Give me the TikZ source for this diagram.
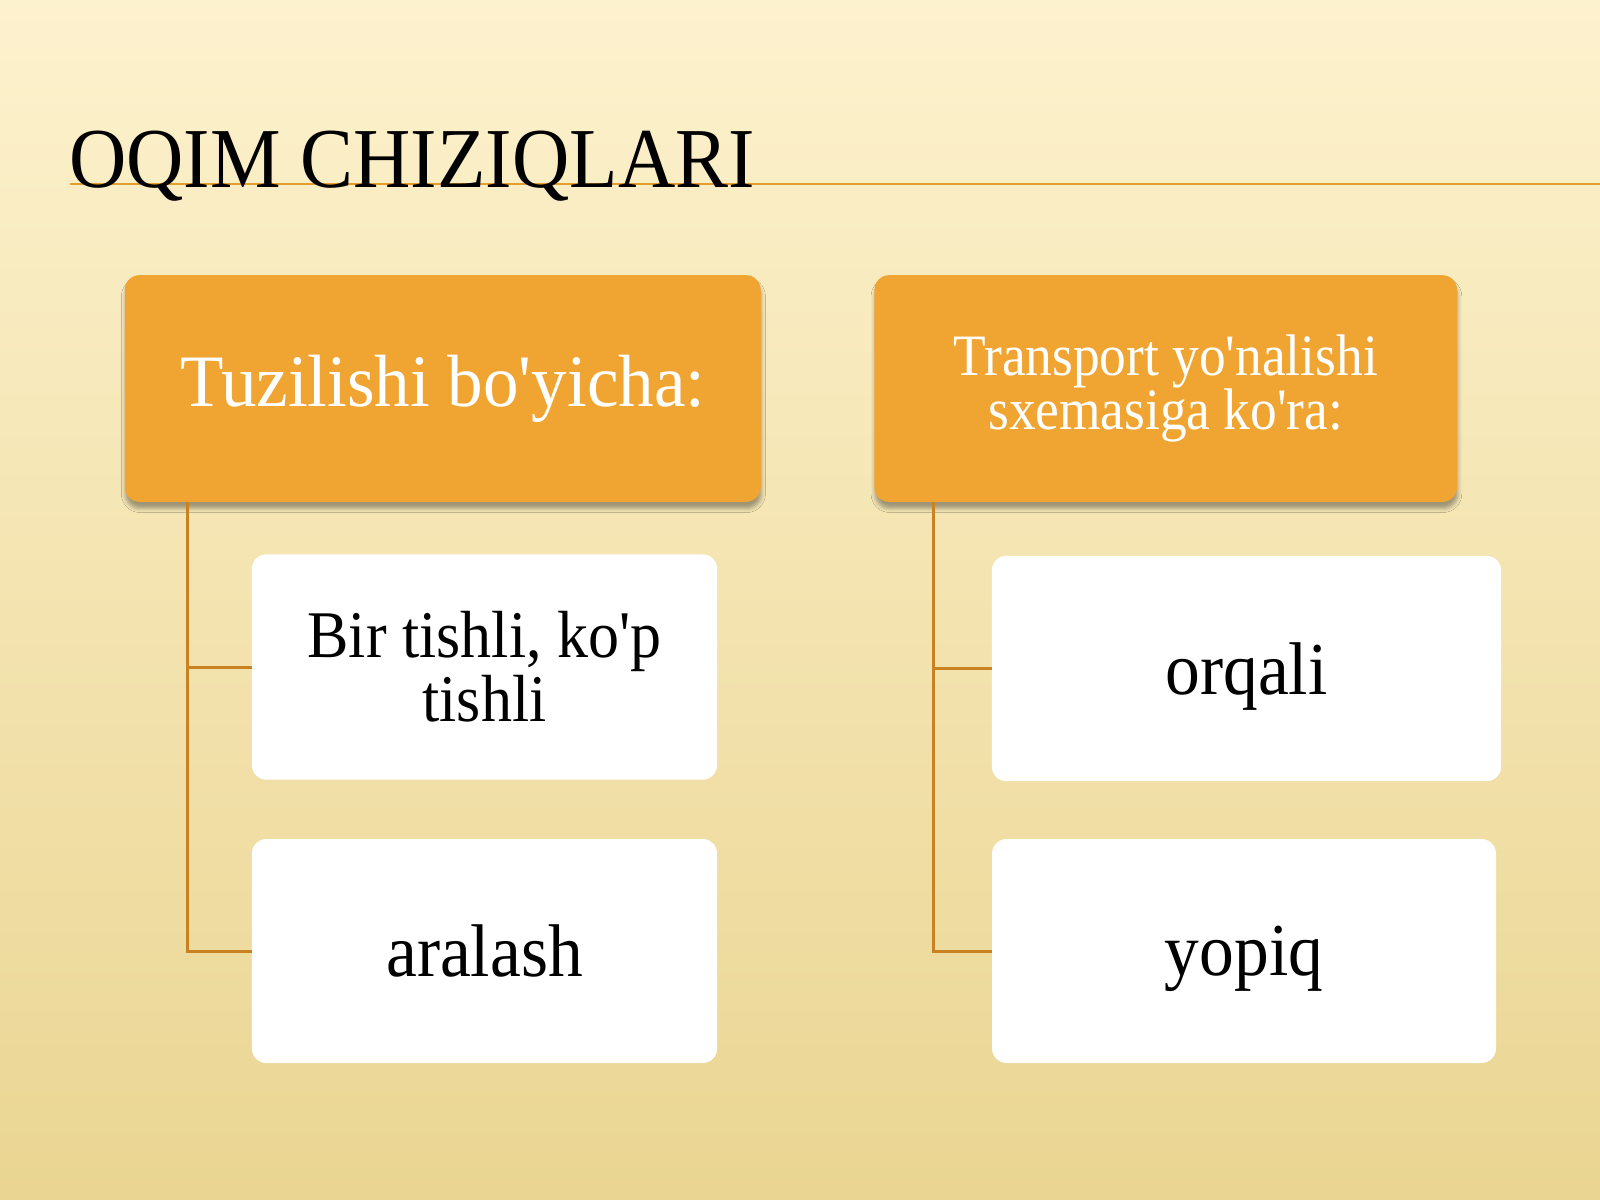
\documentclass[tikz,border=0pt]{standalone}
\usepackage{fontspec}
\setmainfont{Liberation Serif}
\newfontfamily\bodyfont{Liberation Serif}[FakeStretch=0.93]
\newfontfamily\headfont{Liberation Serif}[FakeStretch=0.96]
\newfontfamily\subheadfont{Liberation Serif}[FakeStretch=0.91]
\usetikzlibrary{shadows.blur}
\definecolor{boxorange}{RGB}{240,165,50}
\definecolor{linebrown}{RGB}{200,130,34}
\definecolor{ruleorange}{RGB}{228,158,48}
\definecolor{bgtop}{RGB}{253,242,206}
\definecolor{bgmid}{RGB}{248,231,178}
\definecolor{bgbot}{RGB}{234,213,146}
\tikzset{
	headbox/.style={fill=boxorange, rounded corners=11pt, text=white, align=center, inner sep=0pt,
		blur shadow={shadow xshift=0.5pt, shadow yshift=-5pt, shadow blur radius=3pt, shadow opacity=35}},
	itembox/.style={fill=white, rounded corners=11pt, text=black, align=center, inner sep=0pt},
	branch/.style={draw=linebrown, line width=2.25pt},
}
\begin{document}
\begin{tikzpicture}[x=0.75pt,y=0.75pt,yscale=-1,xscale=1]
	\useasboundingbox (0,0) rectangle (1600,1200);
	\fill[top color=bgtop, middle color=bgmid, bottom color=bgbot] (0,0) rectangle (1600,1200);
	\draw[ruleorange, line width=1.5pt] (70,184) -- (1600,184);

	\node[anchor=base west, inner sep=0pt, font=\bodyfont\fontsize{64}{64}\selectfont] (title) at (69,187) {OQIM CHIZIQLARI};

	\node[headbox, minimum width=477pt, minimum height=170pt, font=\headfont\fontsize{55.5}{60}\selectfont] (tuz) at (442.75,388.5) {Tuzilishi bo'yicha:};
	\node[headbox, minimum width=437pt, minimum height=170pt, font=\subheadfont\fontsize{44}{40}\selectfont] (trans) at (1165.75,388.5) {Transport yo'nalishi\\sxemasiga ko'ra:};

	\node[itembox, minimum width=349pt, minimum height=169pt, font=\bodyfont\fontsize{50}{48}\selectfont] (bir) at (484.5,667) {Bir tishli, ko'p\\tishli};
	\node[itembox, minimum width=349pt, minimum height=168pt, font=\bodyfont\fontsize{56}{60}\selectfont] (aral) at (484.5,951) {aralash};
	\node[itembox, minimum width=382pt, minimum height=169pt, font=\bodyfont\fontsize{56}{60}\selectfont, text depth=0pt] (orq) at (1246.5,668.5) {orqali};
	\node[itembox, minimum width=378pt, minimum height=168pt, font=\bodyfont\fontsize{56}{60}\selectfont, text depth=0pt] (yop) at (1244,951) {yopiq};

	\coordinate (tuzroot) at ([xshift=47.6pt]tuz.south west);
	\coordinate (transroot) at ([xshift=44.6pt]trans.south west);
	\draw[branch] (tuzroot) |- (bir.west);
	\draw[branch] (tuzroot) |- (aral.west);
	\draw[branch] (transroot) |- (orq.west);
	\draw[branch] (transroot) |- (yop.west);
\end{tikzpicture}
\end{document}
